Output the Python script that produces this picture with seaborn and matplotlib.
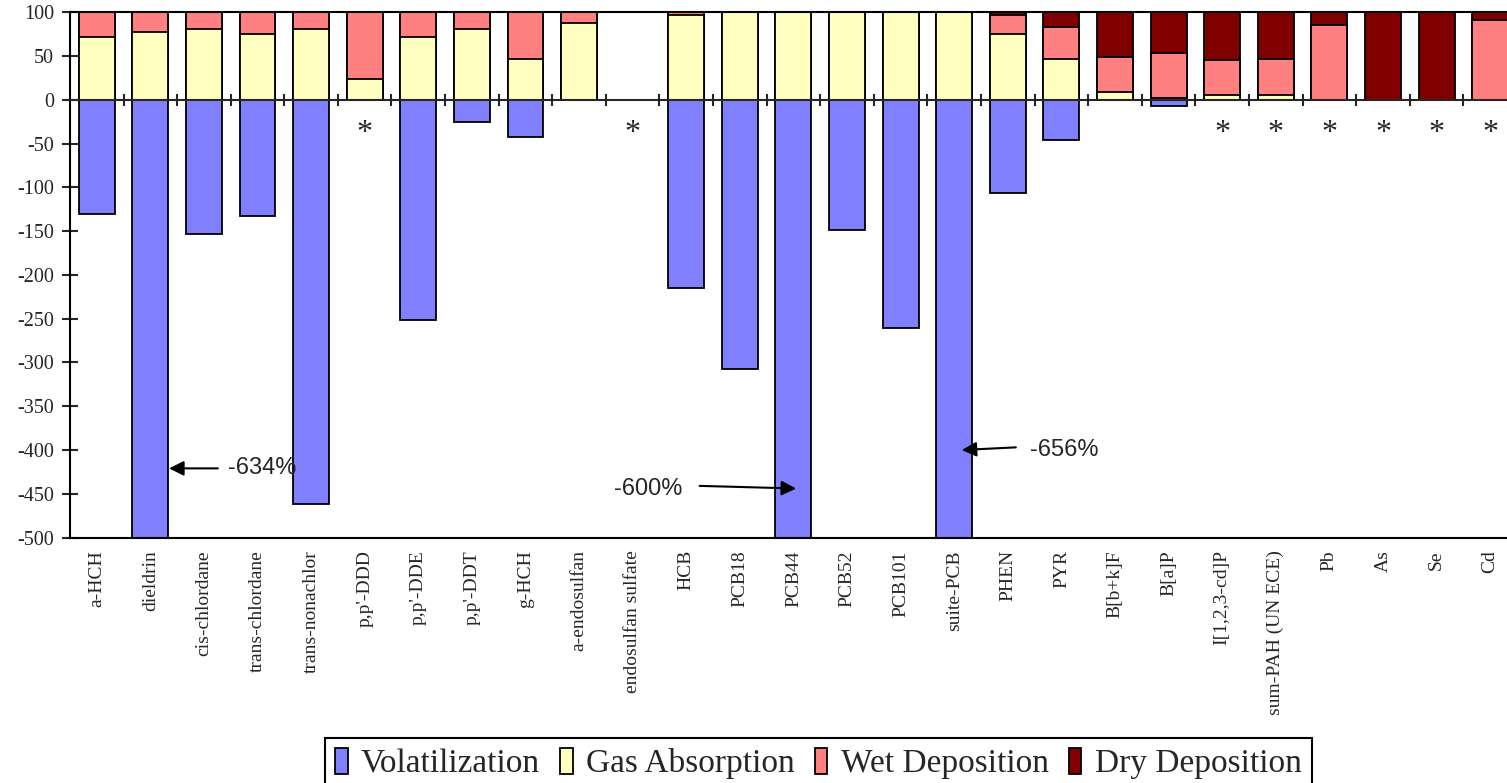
"""
Mass balance of air-water exchange fluxes per compound (stacked bars).
"""

import pandas as pd
import matplotlib.pyplot as plt
import seaborn as sns
from matplotlib.patches import Patch


COMPOUNDS = [
    "a-HCH", "dieldrin", "cis-chlordane", "trans-chlordane",
    "trans-nonachlor", "p,p'-DDD", "p,p'-DDE", "p,p'-DDT", "g-HCH",
    "a-endosulfan", "endosulfan sulfate", "HCB", "PCB18", "PCB44",
    "PCB52", "PCB101", "suite-PCB", "PHEN", "PYR", "B[b+k]F", "B[a]P",
    "I[1,2,3-cd]P", "sum-PAH (UN ECE)", "Pb", "As", "Se", "Cd",
]

# percent of total input
VOLATILIZATION = [
    -130, -634, -153, -133, -462, 0, -252, -25, -42,
    0, 0, -215, -307, -600, -149, -261, -656, -106, -46,
    0, -7, 0, 0, 0, 0, 0, 0,
]
GAS_ABSORPTION = [
    72, 77, 81, 75, 81, 24, 72, 81, 47,
    88, 0, 97, 100, 100, 100, 100, 100, 75, 47,
    9, 2, 6, 6, 0, 0, 0, 0,
]
WET_DEPOSITION = [
    28, 23, 19, 25, 19, 76, 28, 19, 53,
    12, 0, 3, 0, 0, 0, 0, 0, 22, 36,
    40, 52, 39, 41, 86, 0, 0, 91,
]
DRY_DEPOSITION = [
    0, 0, 0, 0, 0, 0, 0, 0, 0,
    0, 0, 0, 0, 0, 0, 0, 0, 3, 17,
    51, 46, 55, 53, 14, 100, 100, 9,
]

# no volatilization estimate available
STARRED = [
    "p,p'-DDD", "endosulfan sulfate", "I[1,2,3-cd]P",
    "sum-PAH (UN ECE)", "Pb", "As", "Se", "Cd",
]

# off-scale bars: (compound, label)
OFF_SCALE = [
    ("dieldrin", "-634%"),
    ("PCB44", "-600%"),
    ("suite-PCB", "-656%"),
]

COLORS = {
    "Volatilization": "#8080FF",
    "Gas Absorption": "#FFFFC0",
    "Wet Deposition": "#FF8080",
    "Dry Deposition": "#800000",
}

SERIF = ["Liberation Serif", "DejaVu Serif"]
SANS = ["Liberation Sans", "DejaVu Sans"]


def build_dataframe() -> pd.DataFrame:
    """
    Put the series in one table with cumulative stack tops.
    """

    df = pd.DataFrame({
        "Compound": COMPOUNDS,
        "Volatilization": VOLATILIZATION,
        "Gas Absorption": GAS_ABSORPTION,
        "Wet Deposition": WET_DEPOSITION,
        "Dry Deposition": DRY_DEPOSITION,
    })
    df["gas_top"] = df["Gas Absorption"]
    df["wet_top"] = df["gas_top"] + df["Wet Deposition"]
    df["dry_top"] = df["wet_top"] + df["Dry Deposition"]
    return df


def draw_bars(ax, df: pd.DataFrame) -> None:
    """
    Stack by overdrawing: tallest layer first.
    """

    layers = [
        ("dry_top", "Dry Deposition"),
        ("wet_top", "Wet Deposition"),
        ("gas_top", "Gas Absorption"),
        ("Volatilization", "Volatilization"),
    ]
    for column, name in layers:
        sns.barplot(
            data=df,
            x="Compound",
            y=column,
            order=COMPOUNDS,
            color=COLORS[name],
            saturation=1,
            width=0.67,
            edgecolor="black",
            linewidth=1.3,
            errorbar=None,
            ax=ax,
        )


def draw_zero_axis(ax) -> None:
    """
    Category axis crossing at zero with boundary ticks.
    """

    ax2 = ax.twiny()
    ax2.set_xlim(ax.get_xlim())
    for side in ["top", "left", "right"]:
        ax2.spines[side].set_visible(False)
    ax2.spines["bottom"].set_position(("data", 0))
    ax2.spines["bottom"].set_linewidth(1.5)
    ax2.xaxis.set_ticks_position("bottom")
    ax2.set_xticks([i + 0.5 for i in range(len(COMPOUNDS) - 1)])
    ax2.tick_params(
        axis="x", direction="inout", length=9, width=1.5,
        labelbottom=False, labeltop=False,
    )


def annotate(ax) -> None:
    """
    Asterisks and the off-scale labels.
    """

    for name in STARRED:
        ax.text(
            COMPOUNDS.index(name), -38, "*",
            ha="center", va="center", fontsize=23, family=SERIF,
        )

    # text position, arrow tail, arrow tip per label
    layout = {
        "-634%": ((2.45, -421), (2.26, -421), (1.35, -421)),
        "-600%": ((9.65, -445), (11.25, -441), (13.05, -444)),
        "-656%": ((17.42, -400), (17.15, -397), (16.14, -400)),
    }
    for name, label in OFF_SCALE:
        text_xy, tail, tip = layout[label]
        ax.text(
            text_xy[0], text_xy[1], label,
            ha="left", va="center", fontsize=17, family=SANS,
        )
        ax.annotate(
            "", xy=tip, xytext=tail,
            arrowprops=dict(
                arrowstyle="-|>", color="black", lw=1.5,
                mutation_scale=22, shrinkA=0, shrinkB=0,
            ),
        )


def main() -> None:
    """
    Build and save the chart.
    """

    sns.set_style("white")
    plt.rcParams["font.family"] = SERIF
    plt.rcParams["axes.unicode_minus"] = False

    df = build_dataframe()

    fig, ax = plt.subplots(figsize=(15.07, 7.83), dpi=100)
    fig.subplots_adjust(
        left=0.0464, right=1.0066, top=0.9843, bottom=0.3135
    )

    draw_bars(ax, df)

    ax.set_ylim(-500, 100)
    ax.set_yticks(range(-500, 101, 50))
    ax.set_xlabel("")
    ax.set_ylabel("")
    for spine in ax.spines.values():
        spine.set_color("black")
        spine.set_linewidth(1.5)
    ax.tick_params(axis="y", direction="inout", length=11, width=1.5,
                   labelsize=14.5, pad=6, left=True)
    ax.tick_params(axis="x", length=0, labelsize=14, pad=9,
                   labelrotation=90)

    draw_zero_axis(ax)
    annotate(ax)

    handles = [
        Patch(facecolor=color, edgecolor="black", linewidth=1.3, label=name)
        for name, color in COLORS.items()
    ]
    legend = fig.legend(
        handles=handles,
        loc="upper center",
        bbox_to_anchor=(0.543, 0.058),
        ncol=4,
        frameon=True,
        fancybox=False,
        edgecolor="black",
        framealpha=1,
        fontsize=24,
        handlelength=0.38,
        handleheight=0.85,
        handletextpad=0.4,
        columnspacing=0.6,
        borderpad=0.3,
        borderaxespad=0,
    )
    legend.get_frame().set_linewidth(1.5)

    fig.savefig("out.png", dpi=100)


if __name__ == "__main__":
    main()
